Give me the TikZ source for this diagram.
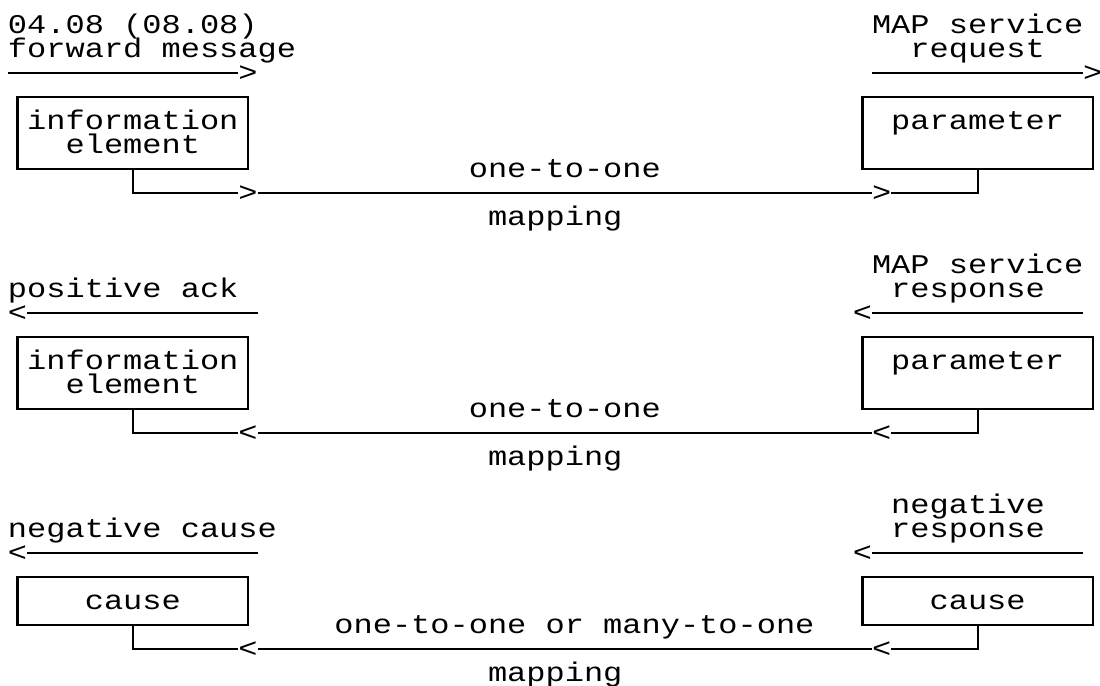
\documentclass[tikz,border=0pt]{standalone}
\usepackage{fontspec}
\setmonofont{Liberation Mono}[FakeStretch=1.1852]
\usetikzlibrary{positioning}
\tikzset{
  txt/.style={font=\ttfamily\fontsize{13.5}{12}\selectfont, inner sep=0pt, outer sep=0pt,
    text height=10pt, text depth=2pt, anchor=west},
  chev/.style={txt, anchor=center},
  boxnd/.style={draw, line width=1.3pt, inner sep=0pt, outer sep=0pt,
    minimum width=115.2pt, minimum height=36pt},
  wire/.style={line width=1.1pt},
}

\begin{document}
\begin{tikzpicture}[x=9.6pt, y=-12pt]
    \useasboundingbox (-0.4167,-1.0417) rectangle (56.875,27.54);
    % ---- forward message / request
    \node[txt] (fwdA) at (0,0) {04.08 (08.08)};
    \node[txt] (fwdB) at (0,1) {forward message};
    \node[txt] (reqA) at (45,0) {MAP service};
    \node[txt] (reqB) at (47,1) {request};
    \coordinate (fwdS) at (0,2);
    \node[chev] (fwdT) at (12.5,2) {>};
    \draw[wire] (fwdS) -- (fwdT.west);
    \coordinate (reqS) at (45,2);
    \node[chev] (reqT) at (56.5,2) {>};
    \draw[wire] (reqS) -- (reqT.west);
    \node[boxnd] (ieA) at (6.5,4.5) {};
    \node[txt] (ieAa) at (1,4) {information};
    \node[txt] (ieAb) at (3,5) {element};
    \node[boxnd] (parA) at (50.5,4.5) {};
    \node[txt] (parAa) at (46,4) {parameter};
    \node[chev] (mapAl) at (12.5,7) {>};
    \node[chev] (mapAr) at (45.5,7) {>};
    \draw[wire] (ieA.south) |- (mapAl.west);
    \draw[wire] (mapAl.east) -- (mapAr.west);
    \draw[wire] (mapAr.east) -| (parA.south);
    \node[txt] (oneA) at (24,6) {one-to-one};
    \node[txt] (mpgA) at (25,8) {mapping};
    % ---- positive ack / response
    \node[txt] (rspA) at (45,10) {MAP service};
    \node[txt] (ackB) at (0,11) {positive ack};
    \node[txt] (rspB) at (46,11) {response};
    \node[chev] (ackT) at (0.5,12) {<};
    \coordinate (ackS) at (13,12);
    \draw[wire] (ackS) -- (ackT.east);
    \node[chev] (rspT) at (44.5,12) {<};
    \coordinate (rspS) at (56,12);
    \draw[wire] (rspS) -- (rspT.east);
    \node[boxnd] (ieB) at (6.5,14.5) {};
    \node[txt] (ieBa) at (1,14) {information};
    \node[txt] (ieBb) at (3,15) {element};
    \node[boxnd] (parB) at (50.5,14.5) {};
    \node[txt] (parBa) at (46,14) {parameter};
    \node[chev] (mapBl) at (12.5,17) {<};
    \node[chev] (mapBr) at (45.5,17) {<};
    \draw[wire] (parB.south) |- (mapBr.east);
    \draw[wire] (mapBr.west) -- (mapBl.east);
    \draw[wire] (mapBl.west) -| (ieB.south);
    \node[txt] (oneB) at (24,16) {one-to-one};
    \node[txt] (mpgB) at (25,18) {mapping};
    % ---- negative cause / response
    \node[txt] (negA) at (46,20) {negative};
    \node[txt] (cauB) at (0,21) {negative cause};
    \node[txt] (negB) at (46,21) {response};
    \node[chev] (cauT) at (0.5,22) {<};
    \coordinate (cauS) at (13,22);
    \draw[wire] (cauS) -- (cauT.east);
    \node[chev] (negT) at (44.5,22) {<};
    \coordinate (negS) at (56,22);
    \draw[wire] (negS) -- (negT.east);
    \node[boxnd, minimum height=24pt] (cauC) at (6.5,24) {};
    \node[txt] (cauCa) at (4,24) {cause};
    \node[boxnd, minimum height=24pt] (negC) at (50.5,24) {};
    \node[txt] (negCa) at (48,24) {cause};
    \node[chev] (mapCl) at (12.5,26) {<};
    \node[chev] (mapCr) at (45.5,26) {<};
    \draw[wire] (negC.south) |- (mapCr.east);
    \draw[wire] (mapCr.west) -- (mapCl.east);
    \draw[wire] (mapCl.west) -| (cauC.south);
    \node[txt] (oneC) at (17,25) {one-to-one or many-to-one};
    \node[txt] (mpgC) at (25,27) {mapping};
\end{tikzpicture}
\end{document}
